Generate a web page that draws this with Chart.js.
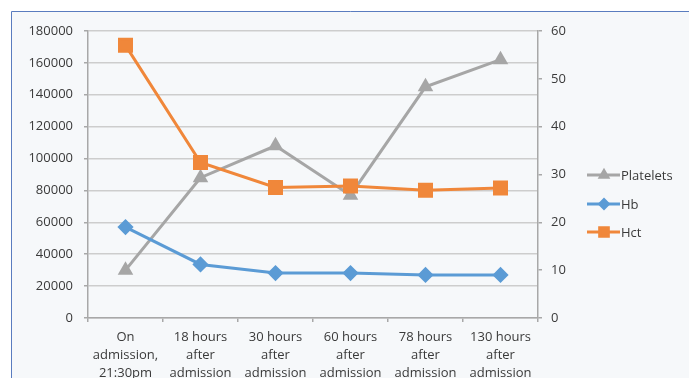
<!DOCTYPE html>
<html>
<head>
<meta charset="utf-8">
<script src="https://cdn.jsdelivr.net/npm/chart.js@4/dist/chart.umd.min.js"></script>
<style>
  html, body { margin: 0; padding: 0; background: #fff; }
  #cv { display: block; }
</style>
</head>
<body>
<canvas id="cv" width="689" height="378"></canvas>
<script>
// values
const categories = [
  ['On', 'admission,', '21:30pm'],
  ['18 hours', 'after', 'admission'],
  ['30 hours', 'after', 'admission'],
  ['60 hours', 'after', 'admission'],
  ['78 hours', 'after', 'admission'],
  ['130 hours', 'after', 'admission'],
];
const platelets = [30000, 88000, 108000, 77000, 145000, 162000];
const hb = [19, 11.2, 9.4, 9.4, 9.0, 9.0];
const hct = [57, 32.5, 27.3, 27.6, 26.7, 27.2];
const seriesNames = ['Platelets', 'Hb', 'Hct'];

const FONT = '"Open Sans", "Liberation Sans", sans-serif';
const TXT = '#3a3a3a';
const AXIS = '#a8a8a8';
const GRID = '#cdcdcd';
const GREY = '#a6a6a6', BLUE = '#5b9bd5', ORANGE = '#f0873a';

// frame + light panel behind the plot
const framePlugin = {
  id: 'frame',
  beforeDraw(chart) {
    const c = chart.ctx;
    c.save();
    c.fillStyle = '#ffffff';
    c.fillRect(0, 0, chart.width, chart.height);
    c.fillStyle = '#f6f8fa';
    c.fillRect(12, 12, chart.width - 12, chart.height - 12);
    c.strokeStyle = '#5a7cbf';
    c.lineWidth = 1;
    c.beginPath();
    c.moveTo(11.5, chart.height); c.lineTo(11.5, 11.5); c.lineTo(chart.width, 11.5);
    c.stroke();
    c.restore();
  },
};

// excel-style legend: short line with the marker in the middle
const legendPlugin = {
  id: 'xlLegend',
  afterDraw(chart) {
    const c = chart.ctx;
    const rows = [175, 204, 232];
    c.save();
    chart.data.datasets.forEach((ds, i) => {
      const y = rows[i];
      c.strokeStyle = ds.borderColor;
      c.lineWidth = 3;
      c.beginPath(); c.moveTo(587, y); c.lineTo(620, y); c.stroke();
      c.fillStyle = ds.pointBackgroundColor;
      c.strokeStyle = ds.pointBorderColor;
      Chart.helpers.drawPoint(c, { pointStyle: ds.pointStyle, radius: ds.pointRadius * 0.72, rotation: 0, borderWidth: 1 }, 604, y);
      c.fillStyle = TXT;
      c.font = '13px ' + FONT;
      c.textBaseline = 'middle';
      c.textAlign = 'left';
      c.fillText(ds.label, 621, y + 1);
    });
    c.restore();
  },
};

const dsStyle = (color, style, r) => ({
  borderColor: color,
  backgroundColor: color,
  pointBackgroundColor: color,
  pointBorderColor: color,
  pointStyle: style,
  pointRadius: r,
  pointHoverRadius: r,
  borderWidth: 3,
  tension: 0,
  fill: false,
});

const plain = (v) => String(v);

new Chart(document.getElementById('cv').getContext('2d'), {
  type: 'line',
  data: {
    labels: categories,
    datasets: [
      { label: seriesNames[0], data: platelets, yAxisID: 'y', order: 2, ...dsStyle(GREY, 'triangle', 6) },
      { label: seriesNames[1], data: hb, yAxisID: 'y1', order: 1, ...dsStyle(BLUE, 'rectRot', 6) },
      { label: seriesNames[2], data: hct, yAxisID: 'y1', order: 0, ...dsStyle(ORANGE, 'rect', 8.5) },
    ],
  },
  options: {
    responsive: false,
    animation: false,
    devicePixelRatio: 1,
    layout: { padding: { top: 31, left: 0, right: 0, bottom: 0 } },
    plugins: { legend: { display: false }, tooltip: { enabled: false } },
    scales: {
      x: {
        offset: true,
        grid: { offset: true, drawOnChartArea: false, tickLength: 4, color: AXIS, lineWidth: 1.5 },
        border: { color: AXIS, width: 1.5 },
        ticks: { autoSkip: false, maxRotation: 0, padding: 6, color: TXT, font: { family: FONT, size: 13, lineHeight: 1.38 } },
        afterFit: (s) => { s.height = 60; },
      },
      y: {
        position: 'left',
        min: 0, max: 180000,
        grid: { color: GRID, lineWidth: 1.5, tickLength: 4, tickColor: AXIS },
        border: { color: AXIS, width: 1.5 },
        ticks: { stepSize: 20000, padding: 11, color: TXT, font: { family: FONT, size: 13 }, callback: plain },
        afterFit: (s) => { s.width = 88; },
      },
      y1: {
        position: 'right',
        min: 0, max: 60,
        grid: { drawOnChartArea: false, color: AXIS, lineWidth: 1.5, tickLength: 4 },
        border: { color: AXIS, width: 1.5 },
        ticks: { stepSize: 10, padding: 9, color: TXT, font: { family: FONT, size: 13 }, callback: plain },
        afterFit: (s) => { s.width = 151; },
      },
    },
  },
  plugins: [framePlugin, legendPlugin],
});
</script>
</body>
</html>
